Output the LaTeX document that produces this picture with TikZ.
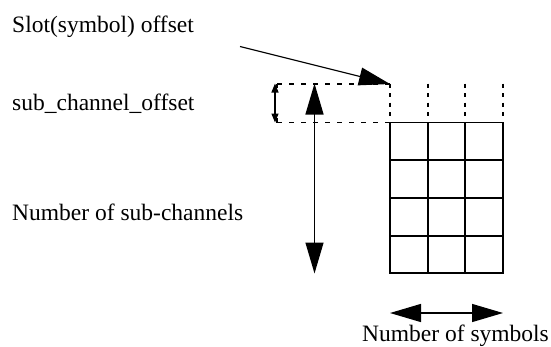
\documentclass[tikz,border=0pt]{standalone}
\usepackage{fontspec}
\setmainfont{Liberation Serif}
\usetikzlibrary{arrows.meta}
\tikzset{
  lbl/.style={inner sep=0pt, anchor=base west, font=\fontsize{23.5}{28}\selectfont},
  gridline/.style={line width=1.8pt},
  dashline/.style={line width=1.8pt, dash pattern=on 5pt off 7pt},
  dotline/.style={line width=1.8pt, dash pattern=on 4pt off 5.5pt},
  bigarrow/.style={line width=1.1pt, -{Triangle[length=31pt,width=18pt]}},
  bigdouble/.style={line width=1.3pt, {Triangle[length=31pt,width=18pt]}-{Triangle[length=31pt,width=18pt]}},
  smalldouble/.style={line width=1.3pt, {Triangle[length=9pt,width=7pt]}-{Triangle[length=9pt,width=7pt]}}
}
\begin{document}
\begin{tikzpicture}[x=1pt,y=-1pt]
\useasboundingbox (0,0) rectangle (551,346);
% labels
\node[lbl] (slotlbl) at (12,32) {Slot(symbol) offset};
\node[lbl] (sublbl) at (12,110) {sub\_channel\_offset};
\node[lbl] (numsub) at (12,220) {Number of sub-channels};
\node[lbl] (numsym) at (362,341) {Number of symbols};
% grid
\foreach \x in {390,427.7,465.3,503} \draw[gridline] (\x,122.5) -- (\x,273.3);
\foreach \y in {122.5,160.2,197.9,235.6,273.3} \draw[gridline] (389.1,\y) -- (503.9,\y);
% dotted verticals
\foreach \x in {390,427.7,465.3,503} \draw[dotline] (\x,83.5) -- (\x,120);
% dashed offset box
\draw[dashline] (277,84) -- (390,84);
\draw[dashline] (277,122.5) -- (390,122.5);
\draw[line width=1.8pt] (277,84) -- (277,88);
\draw[line width=1.8pt] (277,122.5) -- (277,118);
% coordinates
\coordinate (slotTail) at (240,46.5);
\coordinate (slotTip) at (390,84);
\coordinate (scTop) at (275,83.5);
\coordinate (scBot) at (275,122.5);
\coordinate (nsTop) at (314.5,83.5);
\coordinate (nsBot) at (314.5,273.5);
\coordinate (symL) at (390,313);
\coordinate (symR) at (503,313);
% arrows
\draw[bigarrow] (slotTail) -- (slotTip);
\draw[smalldouble] (scTop) -- (scBot);
\draw[bigdouble] (nsTop) -- (nsBot);
\draw[bigdouble] (symL) -- (symR);
\end{tikzpicture}
\end{document}
